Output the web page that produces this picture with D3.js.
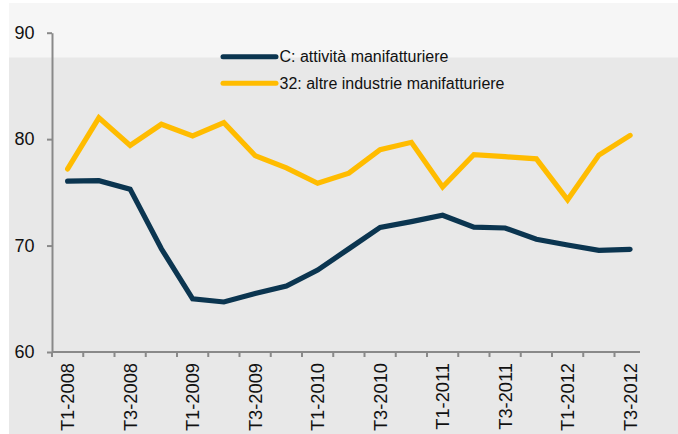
<!DOCTYPE html>
<html>
<head>
<meta charset="utf-8">
<script src="https://cdn.jsdelivr.net/npm/d3@7"></script>
<style>
  html, body { margin: 0; padding: 0; background: #ffffff; }
  svg { display: block; font-family: "Liberation Sans", Arial, Helvetica, sans-serif; }
</style>
</head>
<body>
<svg id="chart" width="678" height="434"></svg>
<script>
const categories = [
  "T1-2008","T2-2008","T3-2008","T4-2008",
  "T1-2009","T2-2009","T3-2009","T4-2009",
  "T1-2010","T2-2010","T3-2010","T4-2010",
  "T1-2011","T2-2011","T3-2011","T4-2011",
  "T1-2012","T2-2012","T3-2012"
];
const seriesNames = ["C: attività manifatturiere", "32: altre industrie manifatturiere"];
const manifatturiere = [76.05, 76.1, 75.3, 69.7, 65.0, 64.7, 65.5, 66.2, 67.7, 69.7, 71.7, 72.25, 72.85, 71.73, 71.65, 70.6, 70.05, 69.55, 69.65];
const altreIndustrie = [77.2, 82.0, 79.4, 81.4, 80.3, 81.55, 78.45, 77.3, 75.85, 76.8, 79.0, 79.7, 75.5, 78.55, 78.35, 78.15, 74.3, 78.5, 80.35];
const yTicks = [60, 70, 80, 90];
const xTickLabels = ["T1-2008","T3-2008","T1-2009","T3-2009","T1-2010","T3-2010","T1-2011","T3-2011","T1-2012","T3-2012"];

const colors = ["#0b3550", "#ffbc00"];
const axisColor = "#898989";

const svg = d3.select("#chart");

// panel backgrounds
svg.append("rect").attr("x", 9).attr("y", 3).attr("width", 669).attr("height", 431).attr("fill", "#e8e8e8");
svg.append("rect").attr("x", 9).attr("y", 3).attr("width", 669).attr("height", 54.5).attr("fill", "#f6f6f6");

const x = d3.scaleBand().domain(categories).range([52, 645.75]).padding(0);
const y = d3.scaleLinear().domain([60, 90]).range([352, 32.7]);

// Y axis
const yAxis = d3.axisLeft(y).tickValues(yTicks).tickSize(5).tickSizeOuter(0).tickPadding(12.5).tickFormat(d3.format("d"));
const gy = svg.append("g").attr("transform", "translate(52,0)").call(yAxis);
gy.select(".domain").attr("stroke", axisColor).attr("stroke-width", 2);
gy.selectAll(".tick line").attr("stroke", axisColor).attr("stroke-width", 2);
gy.selectAll(".tick text").attr("fill", "#111").attr("font-size", 18).attr("font-family", "Liberation Sans, Arial, sans-serif");

// X axis (manual, band boundaries)
const gx = svg.append("g");
gx.append("line").attr("x1", 52).attr("x2", 640).attr("y1", y(60)).attr("y2", y(60))
  .attr("stroke", axisColor).attr("stroke-width", 2);
gx.selectAll("line.tick").data(categories).enter().append("line")
  .attr("class", "tick")
  .attr("x1", d => x(d)).attr("x2", d => x(d))
  .attr("y1", y(60)).attr("y2", y(60) + 5)
  .attr("stroke", axisColor).attr("stroke-width", 2);
gx.selectAll("text.xl").data(xTickLabels).enter().append("text")
  .attr("class", "xl")
  .attr("transform", d => `translate(${x(d) + x.bandwidth() / 2},363) rotate(-90)`)
  .attr("text-anchor", "end")
  .attr("dy", "0.36em")
  .attr("font-size", 18.3)
  .attr("fill", "#111")
  .text(d => d);

// lines
const line = d3.line().x((d, i) => x(categories[i]) + x.bandwidth() / 2).y(d => y(d));
[manifatturiere, altreIndustrie].forEach((s, k) => {
  svg.append("path").datum(s)
    .attr("d", line)
    .attr("fill", "none")
    .attr("stroke", colors[k])
    .attr("stroke-width", 5.2)
    .attr("stroke-linecap", "round")
    .attr("stroke-linejoin", "miter");
});

// legend
const legendY = [56.7, 83.3];
seriesNames.forEach((name, k) => {
  svg.append("line").attr("x1", 223).attr("x2", 276).attr("y1", legendY[k]).attr("y2", legendY[k])
    .attr("stroke", colors[k]).attr("stroke-width", 5).attr("stroke-linecap", "round");
  svg.append("text").attr("x", 279.5).attr("y", legendY[k]).attr("dy", "0.35em")
    .attr("font-size", 16).attr("fill", "#111").text(name);
});
</script>
</body>
</html>
